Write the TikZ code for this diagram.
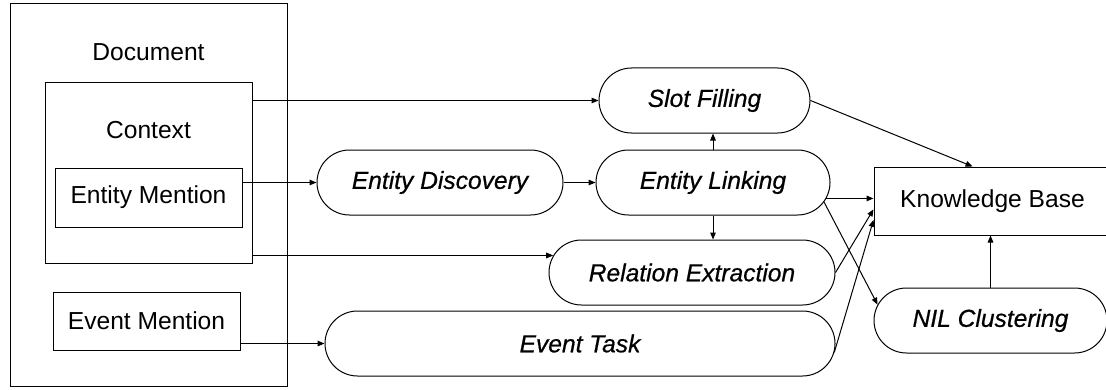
\documentclass[tikz,border=0pt]{standalone}
\usepackage{fontspec}
\setmainfont{Liberation Sans}[ItalicFeatures={FakeBold=0.6}]
\usetikzlibrary{shapes.misc, arrows.meta}

\begin{document}
\begin{tikzpicture}[x=0.5pt, y=-0.5pt, line width=0.5pt,
    font=\fontsize{12.3}{14}\selectfont,
    box/.style={draw, rectangle, inner sep=0pt},
    task/.style={draw, rounded rectangle, inner sep=0pt, minimum height=32.5pt,
        font=\fontsize{12.3}{14}\selectfont\itshape},
    link/.style={-{Triangle[length=3.5pt, width=2.8pt]}}]
    \clip (0,0) rectangle (1106,390);

    % Document side
    \node[box, minimum width=138.5pt, minimum height=191pt] (doc) at (148.5,195) {};
    \node (doctext) at (148.5,52) {Document};
    \node[box, minimum width=103.5pt, minimum height=90pt] (ctx) at (148.5,173) {};
    \node (ctxtext) at (148.5,130) {Context};
    \node[box, minimum width=93.5pt, minimum height=29.5pt] (em) at (148.5,197.5) {Entity Mention};
    \node[box, minimum width=93.5pt, minimum height=29pt] (evm) at (146.5,321) {Event Mention};

    % Tasks
    \node[task, minimum width=105.5pt] (sf) at (704.5,100.5) {Slot Filling};
    \node[task, minimum width=123pt] (ed) at (440,182.5) {Entity Discovery};
    \node[task, minimum width=117pt] (el) at (713,182.5) {Entity Linking};
    \node[task, minimum width=143pt] (re) at (692,272.5) {Relation Extraction};
    \node[task, minimum width=255pt] (et) at (580,343.5) {Event Task};
    \node[task, minimum width=116.5pt] (nil) at (990.5,320.5) {NIL Clustering};

    % Knowledge Base
    \node[box, minimum width=118.5pt, minimum height=34pt] (kb) at (992.5,201) {Knowledge Base};

    % Links from the document
    \draw[link] (ctx.east |- sf.west) -- (sf.west);
    \draw[link] (em.east |- ed.west) -- (ed.west);
    \draw[link] (ctx.east |- re.173) -- (re.173);
    \draw[link] (evm.east |- et.west) -- (et.west);

    % Links between tasks
    \draw[link] (ed.east) -- (el.west);
    \draw[link] (el.north) -- (el.north |- sf.south);
    \draw[link] (el.south) -- (el.south |- re.north);

    % Links into the Knowledge Base
    \draw[link] (sf.east) -- (kb.120);
    \draw[link] (el.352) -- (el.352 -| kb.west);
    \draw[link] (el.350) -- (nil.172);
    \draw[link] (re.east) -- (kb.184);
    \draw[link] (et.358) -- (kb.189);
    \draw[link] (nil.north) -- (nil.north |- kb.south);
\end{tikzpicture}
\end{document}
